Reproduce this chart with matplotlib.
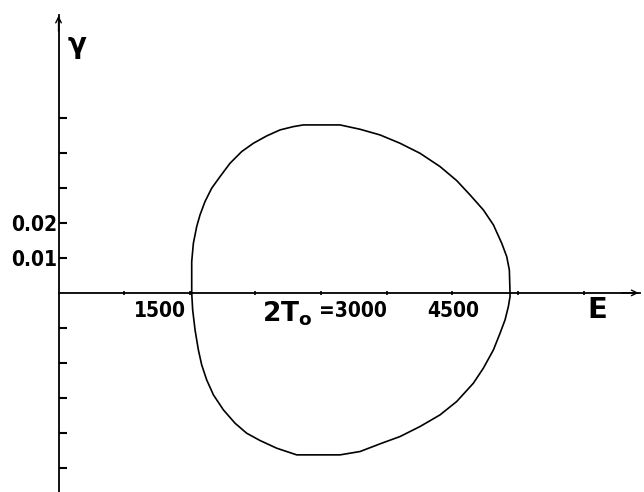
import matplotlib.pyplot as plt
import numpy as np

# upper branch of the closed curve (E, gamma)
E_upper = [1522, 1522, 1541, 1579, 1617, 1674, 1750, 1846, 1960, 2093, 2227, 2379,
           2531, 2684, 2798, 3217, 3446, 3674, 3903, 4131, 4360, 4550, 4703, 4855,
           4970, 5065, 5122, 5152, 5160]
g_upper = [0.0, 0.00895, 0.01419, 0.01895, 0.02229, 0.02610, 0.02990, 0.03324,
           0.03705, 0.04038, 0.04276, 0.04486, 0.04657, 0.04752, 0.04800, 0.04800,
           0.04676, 0.04514, 0.04276, 0.03990, 0.03610, 0.03210, 0.02800, 0.02371,
           0.01943, 0.01419, 0.01038, 0.00657, 0.0]

# lower branch
E_lower = [1522, 1533, 1560, 1598, 1636, 1693, 1770, 1884, 2017, 2150, 2303, 2493,
           2722, 3217, 3446, 3674, 3903, 4131, 4360, 4550, 4741, 4855, 4970, 5046,
           5103, 5141, 5160, 5160]
g_lower = [0.0, -0.00486, -0.01057, -0.01629, -0.02057, -0.02486, -0.02914, -0.03343,
           -0.03724, -0.04010, -0.04219, -0.04438, -0.04629, -0.04629, -0.04533,
           -0.04314, -0.04105, -0.03819, -0.03486, -0.03105, -0.02581, -0.02152,
           -0.01629, -0.01152, -0.00771, -0.00390, -0.00105, 0.0]

x_ticks = [750, 1500, 2250, 3000, 3750, 4500, 5250, 6000]
y_ticks = [-0.05, -0.04, -0.03, -0.02, -0.01, 0.01, 0.02, 0.03, 0.04, 0.05]
y_labels = ['', '', '', '', '', '0.01', '0.02', '', '', '']

fig = plt.figure(figsize=(6.44, 4.92), dpi=100)
ax = fig.add_axes([0, 0, 1, 1])
ax.set_xlim(-669, 6691)
ax.set_ylim(-0.0569, 0.0837)

ax.plot(E_upper, g_upper, color='black', linewidth=1.2)
ax.plot(E_lower, g_lower, color='black', linewidth=1.2)

# axes through the origin
for s in ('top', 'right'):
    ax.spines[s].set_visible(False)
ax.spines['left'].set_position(('data', 0))
ax.spines['bottom'].set_position(('data', 0))
ax.spines['left'].set_bounds(-0.0569, 0.0794)
ax.spines['bottom'].set_bounds(0, 6646)
ax.spines['left'].set_linewidth(1.3)
ax.spines['bottom'].set_linewidth(1.3)

ax.annotate('', xy=(6660, 0), xytext=(6400, 0),
            arrowprops=dict(arrowstyle='->', color='black', lw=1.0))
ax.annotate('', xy=(0, 0.0800), xytext=(0, 0.074),
            arrowprops=dict(arrowstyle='->', color='black', lw=1.0))

ax.set_xticks(x_ticks)
ax.set_xticklabels([])
ax.tick_params(axis='x', direction='inout', length=3, width=1.2)
ax.set_yticks(y_ticks)
ax.set_yticklabels(y_labels, fontweight='bold', fontsize=15,
                   family='DejaVu Sans', fontstretch='condensed')
ax.tick_params(axis='y', direction='in', length=6, width=1.5, pad=1)

lab = dict(fontweight='bold', family='DejaVu Sans', fontstretch='condensed',
           fontsize=15, color='black')
ax.text(1457, -0.0022, '1500', ha='right', va='top', **lab)
ax.text(2980, -0.0022, '=3000', ha='left', va='top', **lab)
ax.text(4514, -0.0022, '4500', ha='center', va='top', **lab)
ax.text(2320, -0.0020, r'2T$_\mathbf{o}$', ha='left', va='top',
        fontsize=19, fontweight='bold', family='DejaVu Sans')
ax.text(6154, -0.0049, 'E', ha='center', va='center', fontsize=21,
        fontweight='bold', family='DejaVu Sans')
ax.text(211, 0.0709, 'γ', ha='center', va='center', fontsize=20,
        fontweight='bold', family='DejaVu Sans')

fig.savefig('out.png', dpi=100)
